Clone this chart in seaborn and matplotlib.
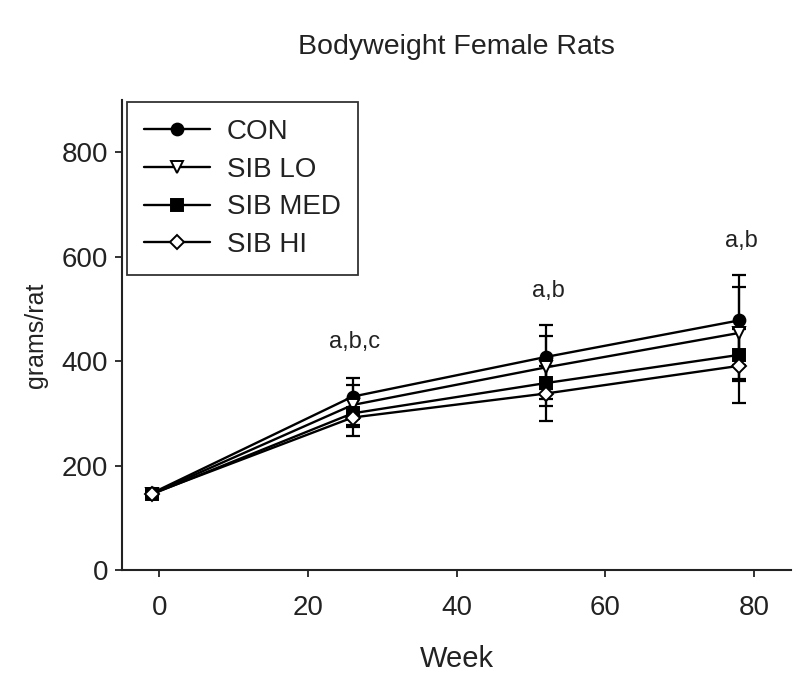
import numpy as np
import pandas as pd
import matplotlib
matplotlib.use("Agg")
import matplotlib.pyplot as plt
import seaborn as sns

# ---- data ----
weeks = [-1, 26, 52, 78]
groups = ["CON", "SIB LO", "SIB MED", "SIB HI"]
con_mean = [147, 332, 408, 478]
lo_mean = [146, 316, 388, 454]
med_mean = [145, 300, 358, 412]
hi_mean = [146, 292, 338, 391]
con_err = [5, 35, 61, 86]
lo_err = [5, 38, 61, 88]
med_err = [5, 27, 44, 50]
hi_err = [5, 36, 53, 72]
annot_text = ["a,b,c", "a,b", "a,b"]
annot_x = [26.3, 52.3, 78.3]
annot_y = [437, 535, 631]

means = [con_mean, lo_mean, med_mean, hi_mean]
errs = [con_err, lo_err, med_err, hi_err]
markers = ["o", "v", "s", "D"]
faces = ["black", "white", "black", "white"]
msizes = [8.5, 8.5, 8, 7.5]

sns.set_style("ticks")
plt.rcParams["font.family"] = ["Liberation Sans", "DejaVu Sans"]

fig = plt.figure(figsize=(8, 6.76), dpi=100)
ax = fig.add_axes([0.1525, 0.1568, 0.8365, 0.6952])

for g, m, e, mk, fc, ms in zip(groups, means, errs, markers, faces, msizes):
    df = pd.DataFrame({"Week": weeks, "val": m})
    ax.errorbar(weeks, m, yerr=e, fmt="none", ecolor="black", elinewidth=1.6,
                capsize=5, capthick=1.6, zorder=2)
    sns.lineplot(data=df, x="Week", y="val", ax=ax, color="black", lw=1.7,
                 marker=mk, markersize=ms, markerfacecolor=fc,
                 markeredgecolor="black", markeredgewidth=1.4, label=g,
                 zorder=3)

for t, x, y in zip(annot_text, annot_x, annot_y):
    ax.text(x, y, t, ha="center", va="center", fontsize=17, color="#222222")

ax.set_xlim(-5, 85)
ax.set_ylim(0, 900)
ax.set_xticks([0, 20, 40, 60, 80])
ax.set_yticks([0, 200, 400, 600, 800])
ax.tick_params(axis="both", labelsize=20, length=5, width=1.3, colors="#222222")
ax.tick_params(axis="x", pad=13)
ax.tick_params(axis="y", pad=5)
ax.set_xlabel("Week", fontsize=21, labelpad=17, color="#222222")
ax.set_ylabel("grams/rat", fontsize=18, labelpad=10, color="#222222")
for s in ["top", "right"]:
    ax.spines[s].set_visible(False)
for s in ["left", "bottom"]:
    ax.spines[s].set_linewidth(1.5)
    ax.spines[s].set_color("#222222")

leg = ax.legend(loc="upper left", bbox_to_anchor=(0.0075, 0.995), borderaxespad=0,
                fontsize=20, handlelength=2.4, handletextpad=0.6,
                labelspacing=0.42, fancybox=False, frameon=True,
                borderpad=0.6)
leg.get_frame().set_edgecolor("black")
leg.get_frame().set_linewidth(1.3)
for t in leg.get_texts():
    t.set_color("#222222")

fig.text(0.57, 0.931, "Bodyweight Female Rats", ha="center", va="center",
         fontsize=20.5, color="#222222")

fig.savefig("out.png", dpi=100)
